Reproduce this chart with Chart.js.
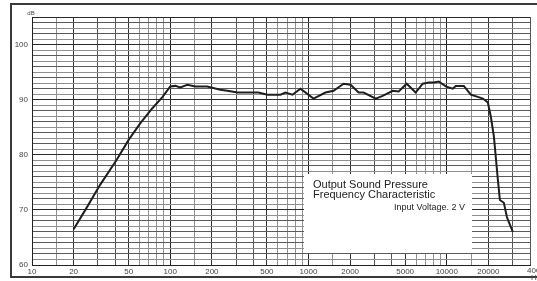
<!DOCTYPE html>
<html>
<head>
<meta charset="utf-8">
<script src="https://cdn.jsdelivr.net/npm/chart.js@4.4.0/dist/chart.umd.min.js"></script>
<style>
html, body { margin: 0; padding: 0; background: #fff; }
#wrap { width: 537px; height: 281px; position: relative; }
</style>
</head>
<body>
<div id="wrap"><canvas id="chart"></canvas></div>
<script>
// frequency response (Hz, dB)
const freqs = [20, 25, 31, 41, 50, 61, 74, 88, 100, 109, 118, 133, 152, 185, 230, 259, 306, 362, 434, 505,
  627, 681, 765, 875, 1087, 1327, 1517, 1794, 2015, 2303, 2505, 3062, 3438, 4064, 4490, 5129, 5960, 6700,
  7413, 8054, 8755, 9843, 11050, 11620, 13280, 14920, 16780, 18240, 19820, 20840, 21930, 22660, 23420,
  24220, 25890, 27220, 28130, 30070];
const spl = [66.5, 70.5, 74.5, 79.1, 82.7, 85.8, 88.4, 90.5, 92.4, 92.5, 92.2, 92.7, 92.4, 92.4, 91.8, 91.6,
  91.3, 91.3, 91.3, 90.9, 90.9, 91.3, 90.9, 92.0, 90.2, 91.3, 91.6, 92.9, 92.7, 91.3, 91.3, 90.2, 90.7, 91.6,
  91.5, 92.9, 91.3, 92.9, 93.1, 93.1, 93.3, 92.4, 92.0, 92.5, 92.5, 90.9, 90.5, 90.2, 89.5, 86.9, 83.3, 79.4,
  75.5, 71.8, 71.3, 68.7, 67.8, 66.0];

// grid lines on the frequency axis and which of them carry a label
const xGrid = [10, 15, 20, 30, 40, 50, 60, 70, 80, 90,
  100, 150, 200, 300, 400, 500, 600, 700, 800, 900,
  1000, 1500, 2000, 3000, 4000, 5000, 6000, 7000, 8000, 9000,
  10000, 15000, 20000, 30000, 40000];
const xLabels = [10, 20, 50, 100, 200, 500, 1000, 2000, 5000, 10000, 20000];
const lastLabel = "40000";

const titleLines = ["Output Sound Pressure", "Frequency Characteristic"];
const subTitle = "Input Voltage. 2 V";

const tickFont = { family: "'Liberation Sans Narrow', 'Liberation Sans', Arial, sans-serif", size: 8 };

const decor = {
  id: "decor",
  beforeDraw(chart) {
    const ctx = chart.ctx;
    ctx.save();
    ctx.fillStyle = "#fff";
    ctx.fillRect(0, 0, chart.width, chart.height);
    ctx.strokeStyle = "#3a3a3a";
    ctx.lineWidth = 2;
    ctx.strokeRect(11, 4, 540, 273);
    ctx.restore();
  },
  beforeDatasetsDraw(chart) {
    const ctx = chart.ctx;
    ctx.save();
    // white legend box over the grid
    ctx.fillStyle = "#fff";
    ctx.fillRect(304, 174, 168, 79);
    ctx.fillStyle = "#222";
    ctx.font = "11px 'Liberation Sans', Arial, sans-serif";
    ctx.textBaseline = "alphabetic";
    ctx.textAlign = "left";
    ctx.fillText(titleLines[0], 313, 188);
    ctx.fillText(titleLines[1], 313, 198);
    ctx.font = "9px 'Liberation Sans', Arial, sans-serif";
    ctx.textAlign = "right";
    ctx.fillText(subTitle, 465, 210);
    ctx.restore();
  },
  afterDraw(chart) {
    const ctx = chart.ctx;
    ctx.save();
    ctx.fillStyle = "#444";
    ctx.font = "6px 'Liberation Sans', Arial, sans-serif";
    ctx.textAlign = "center";
    ctx.textBaseline = "middle";
    ctx.fillText("dB", 31, 13);
    ctx.font = tickFont.size + "px " + tickFont.family;
    ctx.textAlign = "left";
    ctx.textBaseline = "top";
    ctx.fillText(lastLabel, 527, chart.chartArea.bottom + 2);
    ctx.fillText("Hz", 531, chart.chartArea.bottom + 9);
    ctx.restore();
  }
};

function lead(v) {
  return v / Math.pow(10, Math.floor(Math.log10(v) + 1e-9));
}

new Chart(document.getElementById("chart"), {
  type: "line",
  data: {
    datasets: [{
      data: freqs.map((f, i) => ({ x: f, y: spl[i] })),
      borderColor: "#1e1e1e",
      borderWidth: 2,
      pointRadius: 0,
      tension: 0,
      fill: false
    }]
  },
  options: {
    responsive: true,
    maintainAspectRatio: false,
    animation: false,
    devicePixelRatio: 1,
    layout: { padding: { top: 17, right: 7, left: 0, bottom: 0 } },
    plugins: { legend: { display: false }, tooltip: { enabled: false } },
    scales: {
      x: {
        type: "logarithmic",
        min: 10,
        max: 40000,
        afterBuildTicks: (scale) => {
          scale.ticks = xGrid.map(v => ({ value: v }));
        },
        afterFit: (scale) => {
          scale.height = 16;
          scale.paddingLeft = 0;
          scale.paddingRight = 0;
        },
        ticks: {
          autoSkip: false,
          maxRotation: 0,
          padding: 2,
          color: "#444",
          font: tickFont,
          callback: (v) => xLabels.includes(v) ? String(v) : ""
        },
        grid: {
          drawTicks: false,
          lineWidth: 1,
          color: (c) => {
            const v = c.tick && c.tick.value;
            if (!v) return "#888";
            const d = lead(v);
            if (Math.abs(d - 1) < 1e-6) return "#222";
            if (d === 2 || d === 5) return "#333";
            if (d === 3 || d === 4) return "#555";
            return "#8f8f8f";
          }
        },
        border: { display: true, color: "#222", width: 1 }
      },
      y: {
        min: 60,
        max: 105,
        afterBuildTicks: (scale) => {
          const t = [];
          for (let v = 60; v <= 105; v++) t.push({ value: v });
          scale.ticks = t;
        },
        afterFit: (scale) => {
          scale.width = 32;
          scale.paddingTop = 0;
          scale.paddingBottom = 0;
        },
        ticks: {
          autoSkip: false,
          padding: 4,
          color: "#444",
          font: tickFont,
          callback: (v) => v % 10 === 0 ? String(v) : ""
        },
        grid: {
          drawTicks: false,
          lineWidth: 1,
          color: (c) => {
            const v = c.tick && c.tick.value;
            if (v % 10 === 0 || v === 105) return "#2a2a2a";
            return v % 2 === 0 ? "#5a5a5a" : "#8f8f8f";
          }
        },
        border: { display: true, color: "#222", width: 1 }
      }
    }
  },
  plugins: [decor]
});
</script>
</body>
</html>
